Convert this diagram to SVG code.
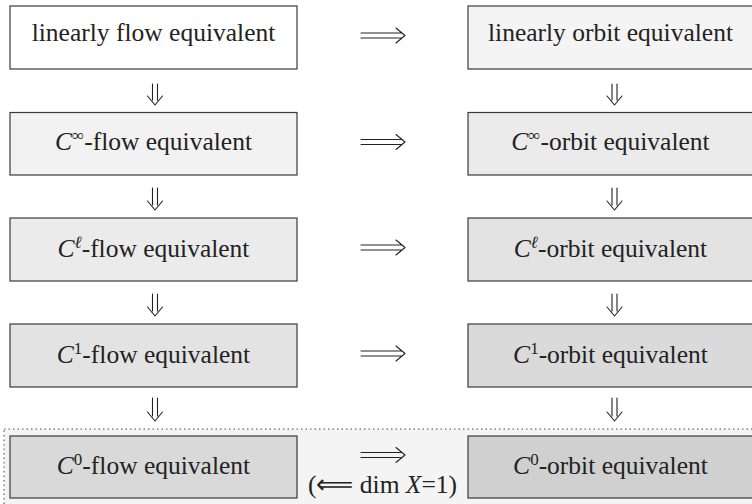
<svg xmlns="http://www.w3.org/2000/svg" width="752" height="504" viewBox="0 0 752 504">
<rect x="4" y="429" width="770" height="100" fill="#f4f4f4" stroke="#444" stroke-width="1" stroke-dasharray="1.5 3"/>
<g id="lin-flow"><rect x="10" y="6" width="287" height="63" fill="#ffffff" stroke="#3a3a3a" stroke-width="1.2"/><text font-family="'Liberation Serif'" font-size="25.5" fill="#222" text-anchor="middle" x="153.5" y="41">linearly flow equivalent</text></g>
<g id="lin-orbit"><rect x="468" y="6" width="287" height="63" fill="#f4f4f4" stroke="#3a3a3a" stroke-width="1.2"/><text font-family="'Liberation Serif'" font-size="25.5" fill="#222" text-anchor="middle" x="610.5" y="41">linearly orbit equivalent</text></g>
<g id="cinf-flow"><rect x="10" y="112.5" width="287" height="62.5" fill="#f2f2f2" stroke="#3a3a3a" stroke-width="1.2"/><text font-family="'Liberation Serif'" font-size="25.5" fill="#222" text-anchor="middle" x="153.5" y="150"><tspan font-style="italic">C</tspan><tspan font-size="17" dy="-9">∞</tspan><tspan dy="9">-flow equivalent</tspan></text></g>
<g id="cinf-orbit"><rect x="468" y="112.5" width="287" height="62.5" fill="#ebebeb" stroke="#3a3a3a" stroke-width="1.2"/><text font-family="'Liberation Serif'" font-size="25.5" fill="#222" text-anchor="middle" x="610.5" y="150"><tspan font-style="italic">C</tspan><tspan font-size="17" dy="-9">∞</tspan><tspan dy="9">-orbit equivalent</tspan></text></g>
<g id="cl-flow"><rect x="10" y="218" width="287" height="63" fill="#ebebeb" stroke="#3a3a3a" stroke-width="1.2"/><text font-family="'Liberation Serif'" font-size="25.5" fill="#222" text-anchor="middle" x="153.5" y="257"><tspan font-style="italic">C</tspan><tspan font-size="17" font-style="italic" dy="-9">ℓ</tspan><tspan dy="9">-flow equivalent</tspan></text></g>
<g id="cl-orbit"><rect x="468" y="218" width="287" height="63" fill="#e3e3e3" stroke="#3a3a3a" stroke-width="1.2"/><text font-family="'Liberation Serif'" font-size="25.5" fill="#222" text-anchor="middle" x="610.5" y="257"><tspan font-style="italic">C</tspan><tspan font-size="17" font-style="italic" dy="-9">ℓ</tspan><tspan dy="9">-orbit equivalent</tspan></text></g>
<g id="c1-flow"><rect x="10" y="324" width="287" height="63" fill="#e3e3e3" stroke="#3a3a3a" stroke-width="1.2"/><text font-family="'Liberation Serif'" font-size="25.5" fill="#222" text-anchor="middle" x="153.5" y="363"><tspan font-style="italic">C</tspan><tspan font-size="17" dy="-9">1</tspan><tspan dy="9">-flow equivalent</tspan></text></g>
<g id="c1-orbit"><rect x="468" y="324" width="287" height="63" fill="#dadada" stroke="#3a3a3a" stroke-width="1.2"/><text font-family="'Liberation Serif'" font-size="25.5" fill="#222" text-anchor="middle" x="610.5" y="363"><tspan font-style="italic">C</tspan><tspan font-size="17" dy="-9">1</tspan><tspan dy="9">-orbit equivalent</tspan></text></g>
<g id="c0-flow"><rect x="10" y="436" width="287" height="62" fill="#d9d9d9" stroke="#3a3a3a" stroke-width="1.2"/><text font-family="'Liberation Serif'" font-size="25.5" fill="#222" text-anchor="middle" x="153.5" y="474"><tspan font-style="italic">C</tspan><tspan font-size="17" dy="-9">0</tspan><tspan dy="9">-flow equivalent</tspan></text></g>
<g id="c0-orbit"><rect x="468" y="436" width="287" height="62" fill="#d0d0d0" stroke="#3a3a3a" stroke-width="1.2"/><text font-family="'Liberation Serif'" font-size="25.5" fill="#222" text-anchor="middle" x="610.5" y="474"><tspan font-style="italic">C</tspan><tspan font-size="17" dy="-9">0</tspan><tspan dy="9">-orbit equivalent</tspan></text></g>
<text font-family="'Liberation Serif'" font-size="25.5" fill="#222" text-anchor="middle" x="382.5" y="493">(⟸ dim <tspan font-style="italic">X</tspan>=1)</text>
<g id="connectors" fill="none" stroke="#222" stroke-width="1.1" stroke-linecap="round" stroke-linejoin="round">
<path d="M361 33H401M361 38H401M396 28L405 35.5L396 43"/>
<path d="M361 139.5H401M361 144.5H401M396 134.5L405 142L396 149.5"/>
<path d="M361 245H401M361 250H401M396 240L405 247.5L396 255"/>
<path d="M361 351H401M361 356H401M396 346L405 353.5L396 361"/>
<path d="M361 452.5H401M361 457.5H401M396 447.5L405 455L396 462.5"/>
<path d="M152.5 84V100M157.5 84V100M147.5 96L155 105L162.5 96"/>
<path d="M612 84V100M617 84V100M607 96L614.5 105L622 96"/>
<path d="M152.5 188V205M157.5 188V205M147.5 201L155 210L162.5 201"/>
<path d="M612 188V205M617 188V205M607 201L614.5 210L622 201"/>
<path d="M152.5 294V311M157.5 294V311M147.5 307L155 316L162.5 307"/>
<path d="M612 294V311M617 294V311M607 307L614.5 316L622 307"/>
<path d="M152.5 398V416M157.5 398V416M147.5 412L155 421L162.5 412"/>
<path d="M612 398V416M617 398V416M607 412L614.5 421L622 412"/>
</g>
</svg>
